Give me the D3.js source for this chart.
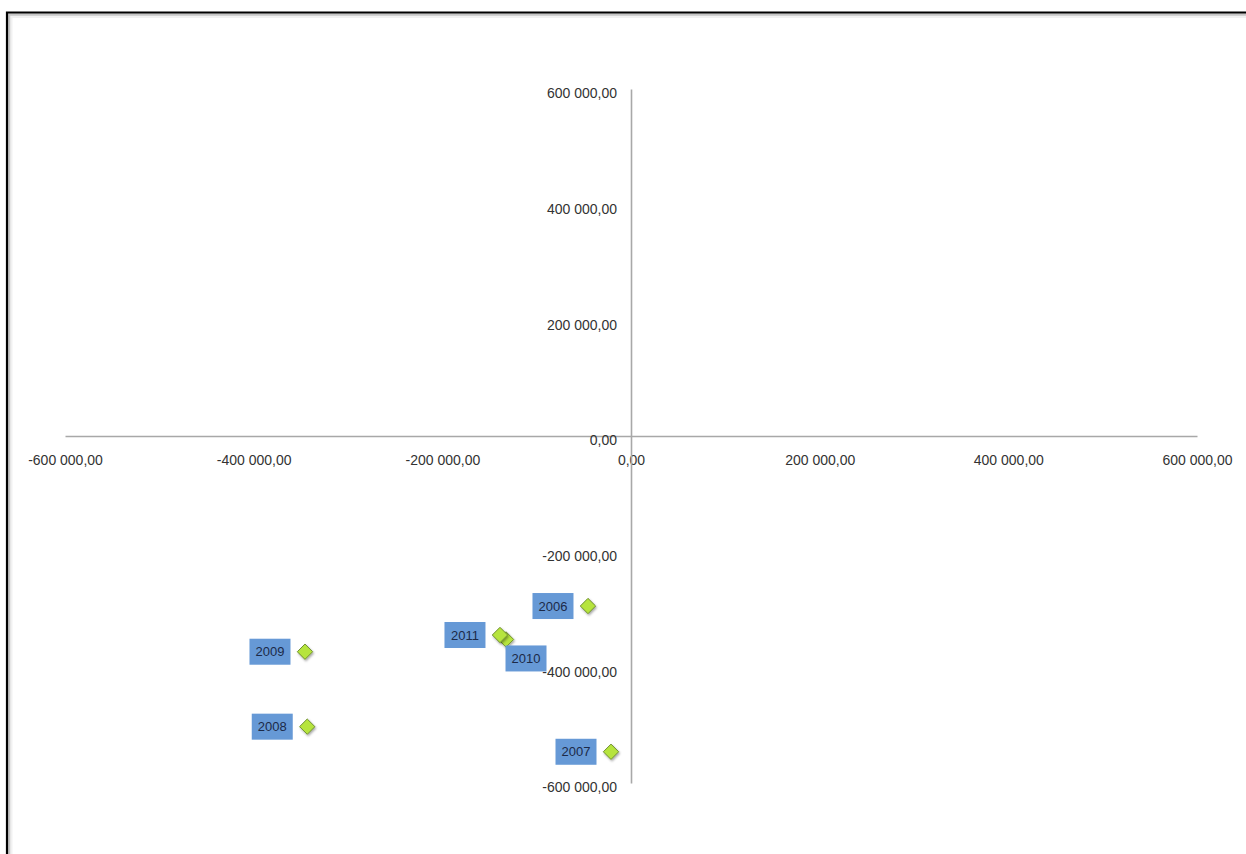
<!DOCTYPE html>
<html>
<head>
<meta charset="utf-8">
<script src="https://cdn.jsdelivr.net/npm/d3@7"></script>
<style>
  html, body { margin: 0; padding: 0; background: #fff; }
  svg { display: block; }
  .axis text { font-family: "Liberation Sans", Arial, sans-serif; font-size: 14px; fill: #333; }
  .lbl text { font-family: "Liberation Sans", Arial, sans-serif; font-size: 13px; fill: #1c2a48; }
</style>
</head>
<body>
<svg id="chart" width="1246" height="854"></svg>
<script>
// ---- data ----
const years   = ["2006", "2007", "2008", "2009", "2010", "2011"];
const xValues = [-45600, -21200, -343200, -345600, -132500, -138900];
const yValues = [-294000, -546000, -502600, -373000, -351800, -344100];
const xTicks  = [-600000, -400000, -200000, 0, 200000, 400000, 600000];
const yTicks  = [-600000, -400000, -200000, 0, 200000, 400000, 600000];
const labelSide = ["left", "left", "left", "left", "below", "left"];

const W = 1246, H = 854;
const svg = d3.select("#chart");

const loc = d3.formatLocale({decimal: ",", thousands: " ", grouping: [3], currency: ["", ""], minus: "-"});
const fmt = loc.format(",.2f");

const x = d3.scaleLinear().domain([-600000, 600000]).range([65, 1197]);
const y = d3.scaleLinear().domain([-600000, 600000]).range([783, 89]);

// frame with shadow
svg.append("path").attr("d", `M11,${H} V16.5 H${W}`).attr("fill", "none").attr("stroke", "#f1f1f1").attr("stroke-width", 3);
svg.append("path").attr("d", `M9,${H} V14.5 H${W}`).attr("fill", "none").attr("stroke", "#c6c6c6").attr("stroke-width", 2.5);
svg.append("path").attr("d", `M7,${H} V12.5 H${W}`).attr("fill", "none").attr("stroke", "#000").attr("stroke-width", 2.2);

const defs = svg.append("defs");
const f = defs.append("filter").attr("id", "sh").attr("x", "-50%").attr("y", "-50%").attr("width", "200%").attr("height", "200%");
f.append("feDropShadow").attr("dx", 1).attr("dy", 1.5).attr("stdDeviation", 1.2).attr("flood-color", "#000").attr("flood-opacity", 0.35);

// axes
const xAxis = svg.append("g").attr("class", "axis")
  .attr("transform", `translate(0,${y(0)})`)
  .call(d3.axisBottom(x).tickValues(xTicks).tickFormat(fmt).tickSize(0).tickSizeOuter(0).tickPadding(19));
const yAxis = svg.append("g").attr("class", "axis")
  .attr("transform", `translate(${x(0)},0)`)
  .call(d3.axisLeft(y).tickValues(yTicks).tickFormat(fmt).tickSize(0).tickSizeOuter(0).tickPadding(14));
svg.selectAll(".axis .domain").attr("stroke", "#a8a8a8").attr("stroke-width", 1.6);
yAxis.selectAll("text").attr("dy", "0.62em");

// points
const data = years.map((yr, i) => ({yr, xv: xValues[i], yv: yValues[i], side: labelSide[i]}));
const sym = d3.symbol().type(d3.symbolDiamond2).size(150);
svg.append("g").selectAll("path").data(data).join("path")
  .attr("d", sym)
  .attr("transform", d => `translate(${x(d.xv)},${y(d.yv)}) rotate(0)`)
  .attr("fill", "#b6e43e").attr("stroke", "#6f8f2e").attr("stroke-width", 1)
  .attr("filter", "url(#sh)");

// labels
const bw = 41, bh = 26;
const lg = svg.append("g").attr("class", "lbl").selectAll("g").data(data).join("g")
  .attr("transform", d => {
    const px = x(d.xv), py = y(d.yv);
    const cx = d.side === "left" ? px - 35 : px + 20;
    const cy = d.side === "left" ? py : py + 19;
    return `translate(${cx},${cy})`;
  });
lg.append("rect").attr("x", -bw / 2).attr("y", -bh / 2).attr("width", bw).attr("height", bh).attr("fill", "#6699d6");
lg.append("text").attr("text-anchor", "middle").attr("dy", "0.36em").text(d => d.yr);
</script>
</body>
</html>
